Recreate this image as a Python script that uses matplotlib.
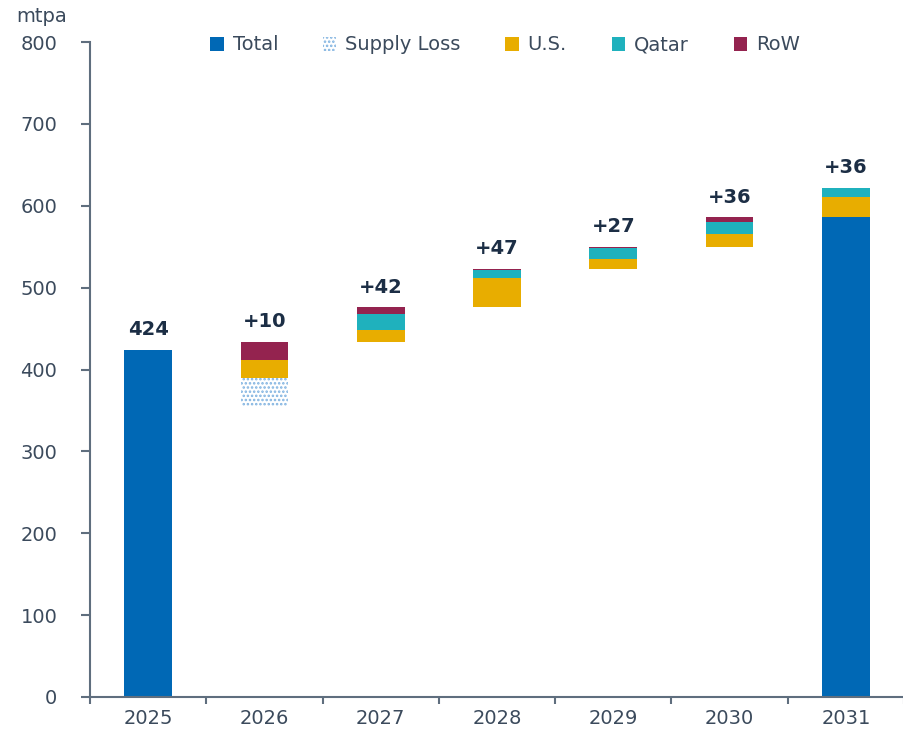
import numpy as np
import matplotlib
matplotlib.use("Agg")
import matplotlib.pyplot as plt

# LNG supply waterfall, mtpa
years = ["2025", "2026", "2027", "2028", "2029", "2030", "2031"]
start_total = 424
supply_loss = np.array([0, 34, 0, 0, 0, 0, 0])
us          = np.array([0, 21, 14, 36, 12, 15, 25])
qatar       = np.array([0, 0, 20, 9, 13, 15, 11])
row         = np.array([0, 23, 8, 2, 2, 6, 0])

C_TOTAL = "#0068b5"
C_LOSS = "#7fb2e0"
C_US = "#e8ad00"
C_QATAR = "#1fb1bd"
C_ROW = "#94234f"
C_AXIS = "#5f6e7e"
C_TEXT = "#3b4a5c"
C_LABEL = "#1c2e45"

plt.rcParams['font.family'] = ['DejaVu Sans']
plt.rcParams['hatch.linewidth'] = 1.2

net = us + qatar + row - supply_loss
level_end = start_total + np.cumsum(net)
level_start = level_end - net
base = level_start - supply_loss
total = np.zeros(len(years))
total[0] = start_total
total[-1] = level_start[-1]
tops = base + us + qatar + row
tops[0] = start_total

x = np.arange(len(years))
w = 0.41

fig = plt.figure(figsize=(9.04, 7.32), dpi=100)
ax = fig.add_axes([90/904, 35/732, (904-90)/904, 655/732])

ax.bar(x, total, w, color=C_TOTAL, linewidth=0, label="Total")
ax.bar(x, supply_loss, w, bottom=base - supply_loss, facecolor="white",
       edgecolor=C_LOSS, hatch="....", linewidth=0, label="Supply Loss")
ax.bar(x, us, w, bottom=base, color=C_US, linewidth=0, label="U.S.")
ax.bar(x, qatar, w, bottom=base + us, color=C_QATAR, linewidth=0, label="Qatar")
ax.bar(x, row, w, bottom=base + us + qatar, color=C_ROW, linewidth=0, label="RoW")

for i in x:
    txt = str(start_total) if i == 0 else f"+{net[i]}"
    ax.annotate(txt, (i, tops[i]), xytext=(0, 14.5), textcoords="offset points",
                ha="center", va="center", fontsize=14, fontweight="bold",
                color=C_LABEL)

ax.set_ylim(0, 800)
ax.set_xlim(-0.5, -0.5 + (904-90)/117.4)
ax.set_yticks(range(0, 801, 100))
ax.set_xticks(x)
ax.set_xticklabels(years)
ax.set_xticks(np.arange(-0.5, 7, 1), minor=True)
ax.tick_params(axis="x", which="major", length=0, pad=9, labelsize=14, labelcolor=C_TEXT)
ax.tick_params(axis="x", which="minor", length=5, width=1.5, color=C_AXIS)
ax.tick_params(axis="y", length=6.5, width=1.5, color=C_AXIS, pad=17, labelsize=14, labelcolor=C_TEXT)

for s in ["top", "right"]:
    ax.spines[s].set_visible(False)
for s in ["left", "bottom"]:
    ax.spines[s].set_color(C_AXIS)
    ax.spines[s].set_linewidth(1.5)

fig.text(42/904, 1 - 16/732, "mtpa", ha="center", va="center", fontsize=14, color=C_TEXT)

fig.legend(loc="center", bbox_to_anchor=(505/904, 1 - 45/732), ncol=5, frameon=False,
           fontsize=14, handlelength=0.7, handleheight=0.7, handletextpad=0.45,
           columnspacing=2.3, labelcolor=C_TEXT)

fig.savefig("out.png", dpi=100)
